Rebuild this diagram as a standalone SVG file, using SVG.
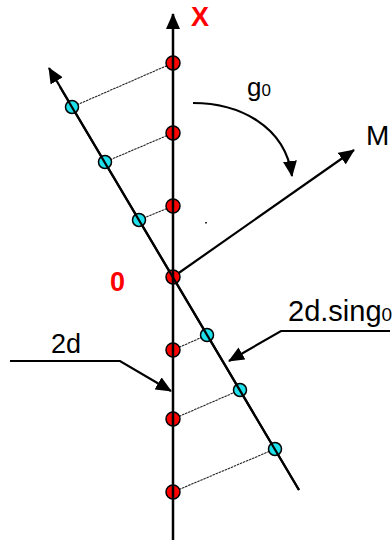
<svg xmlns="http://www.w3.org/2000/svg" width="392" height="542" viewBox="0 0 392 542">
<style>
.ax{stroke:#000;stroke-width:2.5;fill:none}
.ln{stroke:#000;stroke-width:2.2;fill:none}
.th{stroke:#222;stroke-width:1.1;stroke-dasharray:2.5 0.8;fill:none}
.rd{fill:#ff0000;stroke:#000;stroke-width:1.5}
.cy{fill:#1fe0ea;stroke:#000;stroke-width:1.5}
.t{font-family:"Liberation Sans",Arial,sans-serif;fill:#000}
.tr{font-family:"Liberation Sans",Arial,sans-serif;fill:#ff0000;font-weight:bold}
</style>
<defs>
<marker id="ah" viewBox="0 0 16 14" refX="15" refY="7" markerWidth="16" markerHeight="14" orient="auto" markerUnits="userSpaceOnUse">
<path d="M0,0 L16,7 L0,14 z" fill="#000"/>
</marker>
</defs>
<g id="connectors">
<line class="th" x1="173" y1="63" x2="72" y2="107"/>
<line class="th" x1="173" y1="133" x2="105" y2="162"/>
<line class="th" x1="173" y1="206" x2="139" y2="220"/>
<line class="th" x1="173" y1="350" x2="207" y2="335"/>
<line class="th" x1="173" y1="419" x2="240" y2="390"/>
<line class="th" x1="173" y1="492" x2="275" y2="449"/>
<line class="ln" x1="299" y1="490" x2="49" y2="68" marker-end="url(#ah)"/>
<line class="ln" x1="173" y1="277" x2="354" y2="150" marker-end="url(#ah)"/>
<path class="ln" d="M193,103 C238,103 285,125 292,176" marker-end="url(#ah)"/>
<polyline class="ln" points="10,361 120,361 171,391" marker-end="url(#ah)"/>
<polyline class="ln" points="390,331 281,331 229,361" marker-end="url(#ah)"/>
</g>
<g id="cyan-points">
<circle class="cy" cx="72" cy="107" r="6.5"/>
<circle class="cy" cx="105" cy="162" r="6.5"/>
<circle class="cy" cx="139" cy="220" r="6.5"/>
<circle class="cy" cx="207" cy="335" r="6.5"/>
<circle class="cy" cx="240" cy="390" r="6.5"/>
<circle class="cy" cx="275" cy="449" r="6.5"/>
</g>
<g id="red-points">
<circle class="rd" cx="173" cy="63" r="7"/>
<circle class="rd" cx="173" cy="133" r="7"/>
<circle class="rd" cx="173" cy="206" r="7"/>
<circle class="rd" cx="173" cy="277" r="7"/>
<circle class="rd" cx="173" cy="350" r="7"/>
<circle class="rd" cx="173" cy="419" r="7"/>
<circle class="rd" cx="173" cy="492" r="7"/>
</g>
<g id="axis-x">
<line class="ax" x1="173" y1="540" x2="173" y2="14" marker-end="url(#ah)"/>
<line class="ln" x1="299" y1="490" x2="60" y2="87"/>
</g>
<g id="dot">
<rect x="205" y="222" width="2" height="1.5" fill="#333"/>
</g>
<g id="label-X"><text class="tr" x="191" y="26" font-size="27">X</text></g>
<g id="label-0"><text class="tr" x="110" y="291" font-size="27">0</text></g>
<g id="label-g0"><text class="t" x="247" y="96" font-size="26">g<tspan font-size="17">0</tspan></text></g>
<g id="label-M"><text class="t" x="366" y="145" font-size="28">M</text></g>
<g id="label-2d"><text class="t" x="51" y="353" font-size="27">2d</text></g>
<g id="label-2dsing"><text class="t" x="288" y="321" font-size="29">2d.sing<tspan font-size="19">0</tspan></text></g>
</svg>
